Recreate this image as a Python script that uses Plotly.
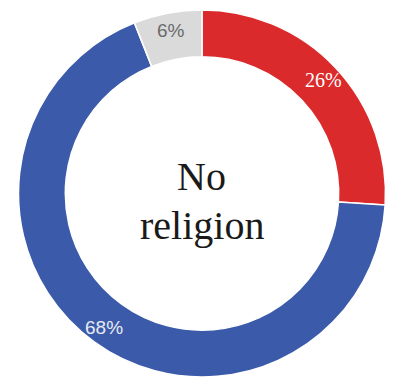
import math
import plotly.graph_objects as go

labels = ["Religion A", "Religion B", "Other"]
values = [26, 68, 6]
colors = ["#db2a2c", "#3b5aa9", "#dadada"]
text_colors = ["#ffffff", "#e6eaf4", "#6b6b6b"]
text_fonts = ["Liberation Serif", "Liberation Sans", "Liberation Sans"]
text_sizes = [20, 19, 19]
center_lines = ["No", "religion"]

W, H = 402, 377
top_px = 10
cx, cy = 202, (top_px + H) / 2  # pie centre in pixels
label_r = 166                   # radius of the percentage labels

fig = go.Figure(
    go.Pie(
        labels=labels,
        values=values,
        sort=False,
        direction="clockwise",
        rotation=0,
        hole=0.745,
        marker=dict(colors=colors, line=dict(color="#ffffff", width=1.5)),
        textinfo="none",
        domain=dict(x=[0.005, 1.0], y=[0.0, 1 - top_px / H]),
        showlegend=False,
        hoverinfo="skip",
    )
)

# percentage labels placed at each slice's mid-angle (clockwise from 12 o'clock)
total = sum(values)
start = 0.0
for v, col, fam, size in zip(values, text_colors, text_fonts, text_sizes):
    mid = (start + v / 2) / total * 2 * math.pi
    start += v
    px = cx + label_r * math.sin(mid)
    py = cy - label_r * math.cos(mid)
    fig.add_annotation(
        text=f"{v}%", x=px / W, y=1 - py / H, xref="paper", yref="paper",
        xanchor="center", yanchor="middle",
        showarrow=False, font=dict(family=fam, size=size, color=col),
    )

fig.add_annotation(
    text=center_lines[0], x=0.5, y=1 - 177 / H, xref="paper", yref="paper",
    xanchor="center", yanchor="middle",
    showarrow=False, font=dict(family="Liberation Serif", size=40, color="#1a1a1a"),
)
fig.add_annotation(
    text=center_lines[1], x=0.503, y=1 - 225 / H, xref="paper", yref="paper",
    xanchor="center", yanchor="middle",
    showarrow=False, font=dict(family="Liberation Serif", size=40, color="#1a1a1a"),
)

fig.update_layout(
    width=W,
    height=H,
    margin=dict(l=0, r=0, t=0, b=0),
    paper_bgcolor="#ffffff",
    plot_bgcolor="#ffffff",
)

fig.write_html("out.html")
